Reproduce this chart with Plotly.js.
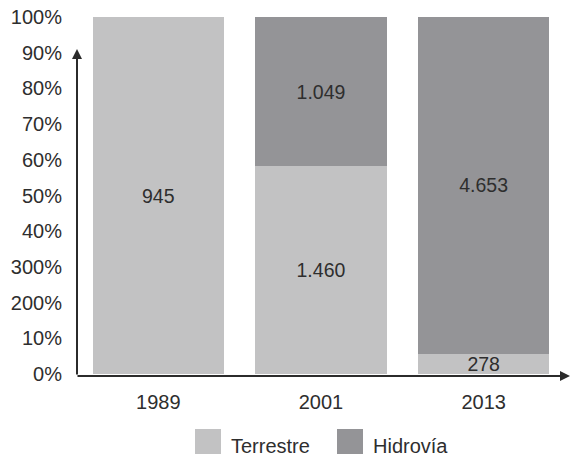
<!DOCTYPE html>
<html>
<head>
<meta charset="utf-8">
<script src="https://cdn.plot.ly/plotly-3.0.1.min.js"></script>
<style>html,body{margin:0;padding:0;background:#fff;}#chart{width:571px;height:456px;}</style>
</head>
<body>
<div id="chart"></div>
<script>
const years = ['1989', '2001', '2013'];
const seriesNames = ['Terrestre', 'Hidrovía'];
const terrestre = [945, 1460, 278];
const hidrovia = [0, 1049, 4653];
const terrestreLabels = ['945', '1.460', '278'];
const hidroviaLabels = ['', '1.049', '4.653'];
const tickValues = [0, 10, 20, 30, 40, 50, 60, 70, 80, 90, 100];
const tickLabels = ['0%', '10%', '200%', '300%', '40%', '50%', '60%', '70%', '80%', '90%', '100%'];
const colors = ['#c2c2c3', '#949497'];

const font = 'Liberation Sans, Arial, sans-serif';
const textColor = '#2e2e2e';

const traces = [
  {type: 'bar', x: years, y: terrestre, name: seriesNames[0], text: terrestreLabels,
   textposition: 'inside', insidetextanchor: 'middle', constraintext: 'none',
   textfont: {family: font, size: 19.5, color: textColor},
   marker: {color: colors[0], line: {width: 0}}, hoverinfo: 'skip'},
  {type: 'bar', x: years, y: hidrovia, name: seriesNames[1], text: hidroviaLabels,
   textposition: 'inside', insidetextanchor: 'middle', constraintext: 'none',
   textfont: {family: font, size: 19.5, color: textColor},
   marker: {color: colors[1], line: {width: 0}}, hoverinfo: 'skip'}
];

// plot area: x 77..565, y 17..374
const L = 77, R = 565, T = 17, B = 374;
const px = v => (v - L) / (R - L);
const py = v => (B - v) / (B - T);

const shapes = [];
const annotations = [
  // y axis arrow
  {xref: 'paper', yref: 'paper', x: 0, y: py(49), ax: 0, ay: 327, axref: 'pixel', ayref: 'pixel',
   text: '', showarrow: true, arrowhead: 2, arrowsize: 1, arrowwidth: 2, arrowcolor: '#2b2b2b', standoff: 0, startstandoff: 0},
  // x axis arrow
  {xref: 'paper', yref: 'paper', x: px(571), y: py(376), ax: -495, ay: 0,
   text: '', showarrow: true, arrowhead: 2, arrowsize: 1, arrowwidth: 2, arrowcolor: '#2b2b2b', standoff: 0, startstandoff: 0}
];
// custom legend
const legendX = [[195, 221], [337, 363]];
seriesNames.forEach((n, i) => {
  shapes.push({type: 'rect', xref: 'paper', yref: 'paper',
    x0: px(legendX[i][0]), x1: px(legendX[i][1]), y0: py(429), y1: py(454),
    fillcolor: colors[i], line: {width: 0}});
  annotations.push({xref: 'paper', yref: 'paper', x: px(legendX[i][1] + 8), y: py(446),
    xanchor: 'left', yanchor: 'middle', text: n, showarrow: false,
    font: {family: font, size: 20, color: textColor}});
});

const layout = {
  width: 571, height: 456,
  margin: {l: L, r: 571 - R, t: T, b: 456 - B},
  paper_bgcolor: '#fff', plot_bgcolor: '#fff',
  barmode: 'stack', barnorm: 'percent', bargap: 0.194,
  showlegend: false,
  font: {family: font, size: 20, color: textColor},
  xaxis: {type: 'category', showline: false, showgrid: false, zeroline: false, ticks: '',
    tickfont: {family: font, size: 20, color: textColor}, ticklabelstandoff: 14},
  yaxis: {range: [0, 100], tickvals: tickValues, ticktext: tickLabels, showline: false, showgrid: false,
    zeroline: false, ticks: '', tickfont: {family: font, size: 20, color: textColor}, ticklabelstandoff: 14},
  shapes: shapes, annotations: annotations
};

Plotly.newPlot('chart', traces, layout, {displayModeBar: false, staticPlot: true});
</script>
</body>
</html>
